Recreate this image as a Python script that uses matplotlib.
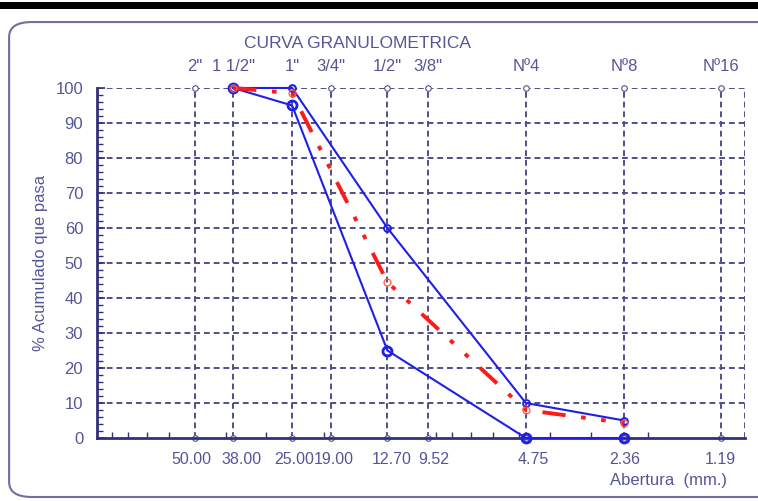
import matplotlib
matplotlib.use("Agg")
import matplotlib.pyplot as plt
import matplotlib.transforms as mtransforms
from matplotlib.patches import FancyBboxPatch, Rectangle
from matplotlib.ticker import LogLocator, NullFormatter, MultipleLocator, FixedLocator

sieve_mm = [50.00, 38.00, 25.00, 19.00, 12.70, 9.52, 4.75, 2.36, 1.19]
sieve_mm_labels = ["50.00", "38.00", "25.00", "19.00", "12.70", "9.52", "4.75", "2.36", "1.19"]
sieve_names = ['2"', '1 1/2"', '1"', '3/4"', '1/2"', '3/8"', 'Nº4', 'Nº8', 'Nº16']

x_curve = [38.00, 25.00, 12.70, 4.75, 2.36]
upper_limit = [100, 100, 60, 10, 5]
lower_limit = [100, 95, 25, 0, 0]
muestra = [100, 98.5, 44.5, 8, 4.3]

y_ticks = list(range(0, 101, 10))

FONT = ['Liberation Sans', 'DejaVu Sans']
plt.rcParams['font.family'] = FONT
TXT = '#55559a'
GRID = '#50508a'
BLUE = '#1f1fe8'
RED = '#ff1a1a'

fig = plt.figure(figsize=(7.58, 5.01), dpi=100)

# decorations
fig.patches.append(Rectangle((0, 0.983), 1, 0.014, transform=fig.transFigure,
                             facecolor='black', edgecolor='none', zorder=0))
fig.patches.append(FancyBboxPatch((0.012, 0.008), 1.02, 0.948, transform=fig.transFigure,
                                  boxstyle='round,pad=0,rounding_size=0.03',
                                  facecolor='none', edgecolor='#7070a0', linewidth=1.5, zorder=0))

ax = fig.add_axes([0.128, 0.1257, 0.855, 0.6987])
ax.set_xscale('log')
ax.set_xlim(100, 1)
ax.set_ylim(0, 100)

# grid
for s in sieve_mm:
    ax.axvline(s, color=GRID, lw=1.4, ls=(0, (3, 2)), zorder=1)
for yv in y_ticks[1:]:
    ax.axhline(yv, color=GRID, lw=1.4, ls=(0, (3, 2)), zorder=1)
ax.axvline(1, color=GRID, lw=1.4, ls=(0, (3, 2)), zorder=1)

# small circles on gridline ends
ax.plot(sieve_mm, [100] * len(sieve_mm), 'o', ms=4, mfc='white', mec=GRID, mew=0.8, clip_on=False, zorder=2)
ax.plot(sieve_mm, [0] * len(sieve_mm), 'o', ms=4, mfc='white', mec=GRID, mew=0.8, clip_on=False, zorder=2)

# curves
ax.plot(x_curve, upper_limit, '-', color=BLUE, lw=1.5, marker='o', ms=5, mfc='none', mec=BLUE, mew=1.3, zorder=4, clip_on=False)
ax.plot(x_curve, lower_limit, '-', color=BLUE, lw=1.5, marker='o', ms=6.5, mfc='none', mec=BLUE, mew=2, zorder=4, clip_on=False)
ax.plot(x_curve, muestra, color=RED, lw=2.8, dashes=(6, 4, 1.2, 4, 1.2, 4), marker='o', ms=5,
        mfc='none', mec='#ff5a3a', mew=0.9, zorder=5, clip_on=False)

# spines
for side in ['top', 'right']:
    ax.spines[side].set_visible(False)
for side in ['bottom', 'left']:
    ax.spines[side].set_color('#30307a')
    ax.spines[side].set_linewidth(2)

ax.xaxis.set_major_locator(FixedLocator(sieve_mm))
ax.set_xticklabels(sieve_mm_labels)
ax.xaxis.set_minor_locator(LogLocator(base=10, subs=range(2, 10)))
ax.xaxis.set_minor_formatter(NullFormatter())
ax.set_yticks(y_ticks)
ax.yaxis.set_minor_locator(MultipleLocator(2))
ax.tick_params(axis='x', which='major', length=0, pad=10, labelsize=11.5, labelcolor=TXT)
ax.tick_params(axis='x', which='minor', length=4, direction='in', color='#30307a', width=1)
ax.tick_params(axis='y', which='major', length=6, direction='in', color='#30307a', width=1.2, pad=10, labelsize=12, labelcolor=TXT)
ax.tick_params(axis='y', which='minor', length=4, direction='in', color='#30307a', width=1)

# slight horizontal offsets of bottom labels as in the reference
label_shift_px = [-3, 8, 2, 3, 4, 6, 7, 0, 0]
for lbl, dx in zip(ax.get_xticklabels(), label_shift_px):
    lbl.set_transform(lbl.get_transform() + mtransforms.ScaledTranslation(dx / 100, 0, fig.dpi_scale_trans))

ax2 = ax.twiny()
ax2.set_xscale('log')
ax2.set_xlim(ax.get_xlim())
ax2.xaxis.set_major_locator(FixedLocator(sieve_mm))
ax2.xaxis.set_minor_locator(FixedLocator([]))
ax2.set_xticklabels(sieve_names)
ax2.tick_params(axis='x', which='major', length=0, pad=10, labelsize=12, labelcolor=TXT)
for sp in ax2.spines.values():
    sp.set_visible(False)

ax.set_ylabel('% Acumulado que pasa', fontsize=12, color=TXT, labelpad=5)
fig.text(0.471, 0.913, 'CURVA GRANULOMETRICA', ha='center', va='center', fontsize=12.5, color=TXT)
fig.text(0.882, 0.041, 'Abertura  (mm.)', ha='center', va='center', fontsize=12, color=TXT)

fig.savefig('out.png', dpi=100)
